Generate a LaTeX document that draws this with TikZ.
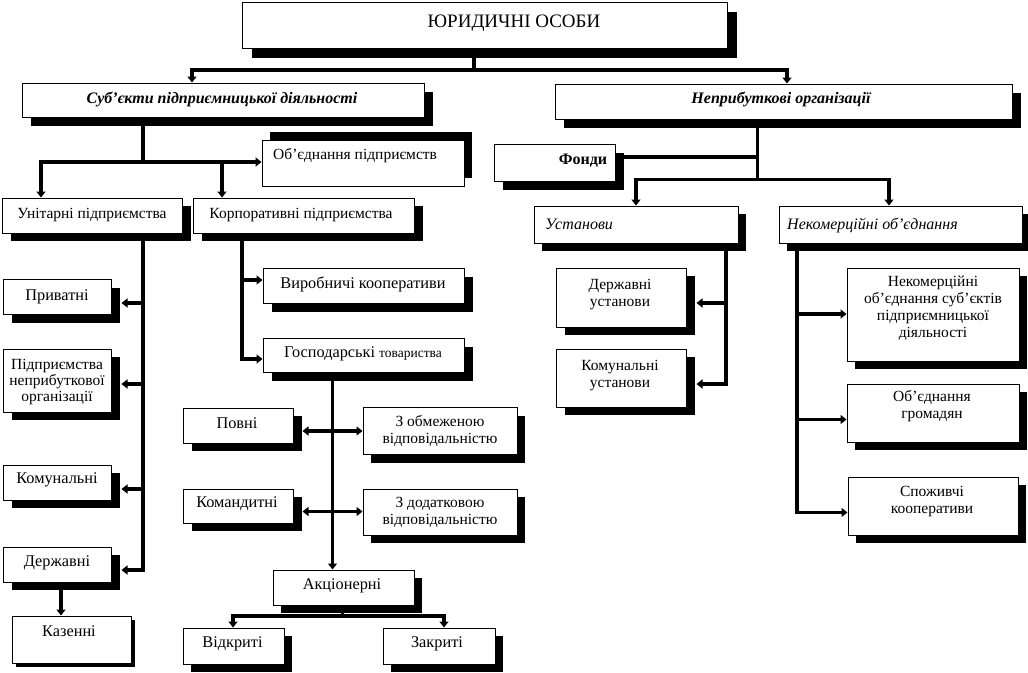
\documentclass[tikz,border=0pt]{standalone}
\usepackage{fontspec}
\setmainfont{Liberation Serif}
\usetikzlibrary{shadows,arrows.meta}
\tikzset{
  bx/.style={draw, line width=1pt, fill=white, inner sep=0pt},
  ln/.style={line width=3.5pt},
  arr/.style={ln, -{Triangle[length=6pt,width=9pt]}},
  dbl/.style={ln, {Triangle[length=6pt,width=9pt]}-{Triangle[length=6pt,width=9pt]}},
  txt/.style={inner sep=0pt, anchor=base, align=center, font=\fontsize{15.5}{17}\selectfont},
  txtb/.style={txt, font=\fontsize{16.3}{17}\selectfont},
  txtl/.style={txt, anchor=base west},
  bi/.style={font=\fontsize{16}{18}\selectfont\bfseries\itshape},
  itx/.style={font=\fontsize{16}{18}\selectfont\itshape},
  bft/.style={font=\fontsize{16}{18}\selectfont\bfseries}
}
\newcommand\mkbox[7]{%
  \pgfmathsetmacro\bw{#4-#2}\pgfmathsetmacro\bh{#5-#3}%
  \pgfmathsetmacro\bcx{(#2+#4)/2}\pgfmathsetmacro\bcy{(#3+#5)/2}%
  \node[bx, minimum width=\bw pt, minimum height=\bh pt,
    drop shadow={shadow xshift=#6pt, shadow yshift=#7pt, opacity=1, fill=black}]
    (#1) at (\bcx,\bcy) {};}
\begin{document}
\begin{tikzpicture}[x=1pt,y=-1pt]
\fill[white] (0,0) rectangle (1028,672);
\useasboundingbox (0,0) rectangle (1028,672);
% boxes
\mkbox{yur}{242}{2}{727}{48}{10}{-10}
\mkbox{sub}{22}{83}{424}{117}{9}{-9}
\mkbox{nep}{555}{84}{1012}{119}{9}{-9}
\mkbox{obp}{262}{140}{464}{186}{8}{8}
\mkbox{fond}{494}{144}{615}{181}{9}{-9}
\mkbox{ust}{534}{206}{738}{243}{8}{-8}
\mkbox{nko}{779}{206}{1022}{243}{8}{-8}
\mkbox{unit}{2}{198}{182}{233}{9}{-8}
\mkbox{korp}{193}{198}{414}{233}{9}{-8}
\mkbox{priv}{3}{279}{111}{314}{9}{-9}
\mkbox{pnep}{3}{349}{111}{412}{9}{-8}
\mkbox{kom}{3}{465}{111}{500}{9}{-8}
\mkbox{derzh}{3}{547}{111}{582}{9}{-8}
\mkbox{kaz}{12}{616}{131}{663}{4}{-4}
\mkbox{vyr}{263}{268}{464}{303}{9}{-9}
\mkbox{gosp}{263}{338}{464}{372}{9}{-9}
\mkbox{povni}{183}{408}{293}{443}{9}{-8}
\mkbox{zobm}{363}{407}{517}{454}{8}{-9}
\mkbox{koman}{183}{489}{293}{523}{9}{-8}
\mkbox{zdod}{363}{489}{517}{535}{8}{-8}
\mkbox{akc}{273}{570}{414}{605}{8}{-8}
\mkbox{vidk}{183}{628}{284}{664}{8}{-8}
\mkbox{zakr}{383}{628}{495}{664}{8}{-8}
\mkbox{dust}{556}{268}{686}{327}{9}{-8}
\mkbox{kust}{556}{349}{686}{407}{9}{-8}
\mkbox{nkos}{847}{268}{1019}{361}{8}{-8}
\mkbox{gromad}{847}{384}{1019}{442}{8}{-8}
\mkbox{spoz}{848}{477}{1018}{535}{8}{-8}
% texts (multi-line nodes: base = last line)
\node[txt, font=\fontsize{19}{20}\selectfont] (yur-t) at (514,27) {ЮРИДИЧНІ ОСОБИ};
\node[txt, bi] (sub-t) at (222,103) {Суб’єкти підприємницької діяльності};
\node[txt, bi] (nep-t) at (781,103) {Неприбуткові організації};
\node[txtl] (obp-t) at (273,159) {Об’єднання підприємств};
\node[txt, bft] (fond-t) at (583,164) {Фонди};
\node[txtl, itx] (ust-t) at (545,229) {Установи};
\node[txtl, itx] (nko-t) at (787,229) {Некомерційні об’єднання};
\node[txt] (unit-t) at (92,218) {Унітарні підприємства};
\node[txt] (korp-t) at (301,218) {Корпоративні підприємства};
\node[txtb] (priv-t) at (57,300) {Приватні};
\node[txt, font=\fontsize{15.5}{16}\selectfont] (pnep-t) at (57,401.5) {Підприємства\\неприбуткової\\організації};
\node[txtb] (kom-t) at (57,483) {Комунальні};
\node[txtb] (derzh-t) at (57,566) {Державні};
\node[txtb] (kaz-t) at (69,636) {Казенні};
\node[txtb] (vyr-t) at (363,288) {Виробничі кооперативи};
\node[txtb] (gosp-t) at (363,357) {Господарські {\fontsize{13.5}{15}\selectfont товариства}};
\node[txtb] (povni-t) at (237,428) {Повні};
\node[txt] (zobm-t) at (440,443) {З обмеженою\\відповідальністю};
\node[txtb] (koman-t) at (237,507) {Командитні};
\node[txt] (zdod-t) at (440,524) {З додатковою\\відповідальністю};
\node[txtb] (akc-t) at (342,589.5) {Акціонерні};
\node[txtb] (vidk-t) at (232.5,647) {Відкриті};
\node[txtb] (zakr-t) at (437,647) {Закриті};
\node[txt] (dust-t) at (620,306) {Державні\\установи};
\node[txt] (kust-t) at (620,387.5) {Комунальні\\установи};
\node[txt] (nkos-t) at (933,337) {Некомерційні\\об’єднання суб’єктів\\підприємницької\\діяльності};
\node[txt] (gromad-t) at (932,418.5) {Об’єднання\\громадян};
\node[txt] (spoz-t) at (932,513) {Споживчі\\кооперативи};
% columns and rows
\coordinate (cT) at (474,0);   \coordinate (r1) at (0,70);
\coordinate (cA) at (192,0);   \coordinate (cB) at (787,0);
\coordinate (cS) at (143,0);   \coordinate (r2) at (0,162);
\coordinate (cL) at (41,0);    \coordinate (cK) at (222,0);
\coordinate (cKs) at (242,0);  \coordinate (cG) at (332.5,0);
\coordinate (cN) at (757.5,0); \coordinate (r3) at (0,179.5); \coordinate (r4) at (0,157);
\coordinate (cU) at (636,0);   \coordinate (cNk) at (889,0);
\coordinate (cUs) at (726,0);  \coordinate (cNs) at (797,0);
\coordinate (cAk) at (342.5,0);\coordinate (rAk) at (0,616);
\coordinate (cO) at (233,0);   \coordinate (cZ) at (444,0);
\coordinate (cKz) at (61,0);
\coordinate (rPriv) at (0,303); \coordinate (rPnep) at (0,384);
\coordinate (rKom) at (0,489);  \coordinate (rDer) at (0,570);
\coordinate (rVyr) at (0,280);  \coordinate (rGos) at (0,359);
\coordinate (rPov) at (0,431);  \coordinate (rKoman) at (0,511.5);
\coordinate (rDust) at (0,303); \coordinate (rKust) at (0,384);
\coordinate (rNk1) at (0,314);  \coordinate (rNk2) at (0,419.5); \coordinate (rNk3) at (0,512.5);
% connectors
\draw[ln] (yur.south -| cT) -- (cT |- r1);
\draw[arr] (cT |- r1) -| (cA |- sub.north);
\draw[arr] (cT |- r1) -| (cB |- nep.north);
\draw[ln] (sub.south -| cS) -- (cS |- r2);
\draw[arr] (cS |- r2) -| (cL |- unit.north);
\draw[arr] (cS |- r2) -| (cK |- korp.north);
\draw[arr] (cS |- r2) -- (obp.west |- r2);
\draw[arr] (unit.south -| cS) |- ([xshift=10pt]derzh.east |- rDer);
\draw[arr] (cS |- rPriv) -- ([xshift=10pt]priv.east |- rPriv);
\draw[arr] (cS |- rPnep) -- ([xshift=10pt]pnep.east |- rPnep);
\draw[arr] (cS |- rKom) -- ([xshift=10pt]kom.east |- rKom);
\draw[arr] (derzh.south -| cKz) -- (cKz |- kaz.north);
\draw[arr] (korp.south -| cKs) |- (gosp.west |- rGos);
\draw[arr] (cKs |- rVyr) -- (vyr.west |- rVyr);
\draw[arr] (gosp.south -| cG) -- (cG |- akc.north);
\draw[dbl] ([xshift=9pt]povni.east |- rPov) -- (zobm.west |- rPov);
\draw[dbl] ([xshift=9pt]koman.east |- rKoman) -- (zdod.west |- rKoman);
\draw[ln] (akc.south -| cAk) -- (cAk |- rAk);
\draw[arr] (cAk |- rAk) -| (cO |- vidk.north);
\draw[arr] (cAk |- rAk) -| (cZ |- zakr.north);
\draw[ln] (nep.south -| cN) -- (cN |- r3);
\draw[ln] (fond.east |- r4) -- (cN |- r4);
\draw[arr] (cN |- r3) -| (cU |- ust.north);
\draw[arr] (cN |- r3) -| (cNk |- nko.north);
\draw[arr] (ust.south -| cUs) |- ([xshift=10pt]kust.east |- rKust);
\draw[arr] (cUs |- rDust) -- ([xshift=10pt]dust.east |- rDust);
\draw[arr] (nko.south -| cNs) |- (spoz.west |- rNk3);
\draw[arr] (cNs |- rNk1) -- (nkos.west |- rNk1);
\draw[arr] (cNs |- rNk2) -- (gromad.west |- rNk2);
\end{tikzpicture}
\end{document}
